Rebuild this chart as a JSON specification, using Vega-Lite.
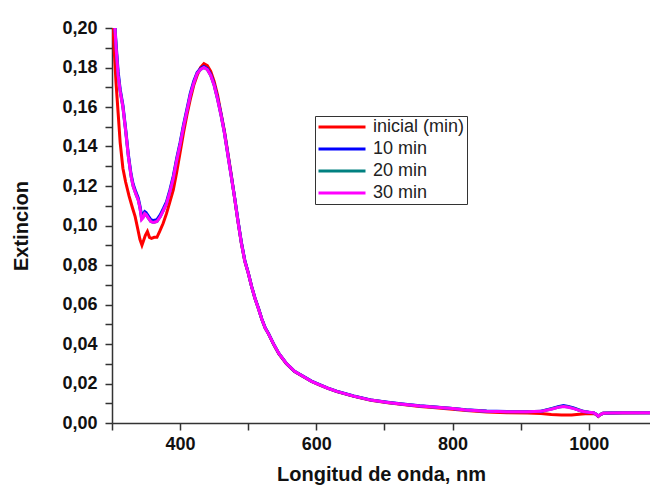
{
  "$schema": "https://vega.github.io/schema/vega-lite/v6.json",
  "autosize": {"type": "none"},
  "padding": {"left": 112, "top": 28, "right": 0, "bottom": 64},
  "width": 538,
  "height": 395,
  "background": "white",
  "config": {
    "font": "Liberation Sans",
    "view": {"stroke": null},
    "axis": {
      "grid": false,
      "domainColor": "#333333",
      "domainWidth": 1.5,
      "tickColor": "#333333",
      "tickWidth": 1.5,
      "tickSize": 7,
      "labelFont": "Liberation Sans",
      "labelFontWeight": "bold",
      "labelFontSize": 18,
      "labelColor": "#111111",
      "titleFont": "Liberation Sans",
      "titleFontWeight": "bold",
      "titleFontSize": 20,
      "titleColor": "#111111"
    }
  },
  "data": {"values": [
    {"s":"inicial (min)","x":299,"y":0.215},{"s":"inicial (min)","x":301,"y":0.205},{"s":"inicial (min)","x":303,"y":0.19},{"s":"inicial (min)","x":306,"y":0.172},{"s":"inicial (min)","x":309,"y":0.157},{"s":"inicial (min)","x":312,"y":0.142},{"s":"inicial (min)","x":316,"y":0.129},{"s":"inicial (min)","x":320,"y":0.122},{"s":"inicial (min)","x":325,"y":0.115},{"s":"inicial (min)","x":330,"y":0.109},{"s":"inicial (min)","x":334,"y":0.1045},{"s":"inicial (min)","x":338,"y":0.098},{"s":"inicial (min)","x":341,"y":0.093},{"s":"inicial (min)","x":344,"y":0.09},{"s":"inicial (min)","x":346,"y":0.092},{"s":"inicial (min)","x":349,"y":0.095},{"s":"inicial (min)","x":352,"y":0.097},{"s":"inicial (min)","x":355,"y":0.094},{"s":"inicial (min)","x":358,"y":0.0935},{"s":"inicial (min)","x":362,"y":0.094},{"s":"inicial (min)","x":366,"y":0.094},{"s":"inicial (min)","x":370,"y":0.097},{"s":"inicial (min)","x":375,"y":0.101},{"s":"inicial (min)","x":380,"y":0.106},{"s":"inicial (min)","x":385,"y":0.112},{"s":"inicial (min)","x":390,"y":0.118},{"s":"inicial (min)","x":395,"y":0.127},{"s":"inicial (min)","x":400,"y":0.137},{"s":"inicial (min)","x":405,"y":0.147},{"s":"inicial (min)","x":410,"y":0.156},{"s":"inicial (min)","x":415,"y":0.164},{"s":"inicial (min)","x":420,"y":0.171},{"s":"inicial (min)","x":425,"y":0.176},{"s":"inicial (min)","x":430,"y":0.18},{"s":"inicial (min)","x":435,"y":0.182},{"s":"inicial (min)","x":440,"y":0.181},{"s":"inicial (min)","x":445,"y":0.178},{"s":"inicial (min)","x":450,"y":0.173},{"s":"inicial (min)","x":455,"y":0.166},{"s":"inicial (min)","x":460,"y":0.157},{"s":"inicial (min)","x":465,"y":0.148},{"s":"inicial (min)","x":470,"y":0.137},{"s":"inicial (min)","x":475,"y":0.126},{"s":"inicial (min)","x":480,"y":0.114},{"s":"inicial (min)","x":485,"y":0.102},{"s":"inicial (min)","x":490,"y":0.091},{"s":"inicial (min)","x":495,"y":0.082},{"s":"inicial (min)","x":500,"y":0.076},{"s":"inicial (min)","x":505,"y":0.069},{"s":"inicial (min)","x":510,"y":0.063},{"s":"inicial (min)","x":515,"y":0.058},{"s":"inicial (min)","x":520,"y":0.0525},{"s":"inicial (min)","x":525,"y":0.048},{"s":"inicial (min)","x":530,"y":0.045},{"s":"inicial (min)","x":537,"y":0.04},{"s":"inicial (min)","x":545,"y":0.035},{"s":"inicial (min)","x":556,"y":0.03},{"s":"inicial (min)","x":568,"y":0.026},{"s":"inicial (min)","x":581,"y":0.0234},{"s":"inicial (min)","x":593,"y":0.021},{"s":"inicial (min)","x":605,"y":0.0192},{"s":"inicial (min)","x":617,"y":0.0175},{"s":"inicial (min)","x":630,"y":0.0159},{"s":"inicial (min)","x":655,"y":0.0135},{"s":"inicial (min)","x":680,"y":0.0115},{"s":"inicial (min)","x":705,"y":0.0102},{"s":"inicial (min)","x":727,"y":0.0093},{"s":"inicial (min)","x":752,"y":0.0084},{"s":"inicial (min)","x":771,"y":0.0078},{"s":"inicial (min)","x":800,"y":0.0069},{"s":"inicial (min)","x":820,"y":0.0063},{"s":"inicial (min)","x":850,"y":0.0056},{"s":"inicial (min)","x":880,"y":0.0052},{"s":"inicial (min)","x":910,"y":0.005},{"s":"inicial (min)","x":930,"y":0.0048},{"s":"inicial (min)","x":945,"y":0.0043},{"s":"inicial (min)","x":960,"y":0.004},{"s":"inicial (min)","x":975,"y":0.004},{"s":"inicial (min)","x":990,"y":0.0045},{"s":"inicial (min)","x":1000,"y":0.0048},{"s":"inicial (min)","x":1008,"y":0.0047},{"s":"inicial (min)","x":1011,"y":0.0042},{"s":"inicial (min)","x":1014,"y":0.0033},{"s":"inicial (min)","x":1017,"y":0.0042},{"s":"inicial (min)","x":1021,"y":0.0049},{"s":"inicial (min)","x":1040,"y":0.005},{"s":"inicial (min)","x":1090,"y":0.0052},

    {"s":"10 min","x":301,"y":0.23},{"s":"10 min","x":303.5,"y":0.205},{"s":"10 min","x":306,"y":0.192},{"s":"10 min","x":309,"y":0.178},{"s":"10 min","x":312,"y":0.169},{"s":"10 min","x":316,"y":0.161},{"s":"10 min","x":320,"y":0.149},{"s":"10 min","x":324,"y":0.136},{"s":"10 min","x":328,"y":0.126},{"s":"10 min","x":331,"y":0.121},{"s":"10 min","x":335,"y":0.117},{"s":"10 min","x":338.5,"y":0.114},{"s":"10 min","x":341,"y":0.11},{"s":"10 min","x":343.5,"y":0.105},{"s":"10 min","x":346,"y":0.106},{"s":"10 min","x":348,"y":0.107},{"s":"10 min","x":350,"y":0.1065},{"s":"10 min","x":353,"y":0.105},{"s":"10 min","x":357,"y":0.103},{"s":"10 min","x":361,"y":0.1025},{"s":"10 min","x":366,"y":0.103},{"s":"10 min","x":371,"y":0.1055},{"s":"10 min","x":376,"y":0.109},{"s":"10 min","x":380,"y":0.112},{"s":"10 min","x":385,"y":0.118},{"s":"10 min","x":390,"y":0.125},{"s":"10 min","x":395,"y":0.134},{"s":"10 min","x":400,"y":0.142},{"s":"10 min","x":405,"y":0.151},{"s":"10 min","x":410,"y":0.159},{"s":"10 min","x":415,"y":0.167},{"s":"10 min","x":420,"y":0.173},{"s":"10 min","x":425,"y":0.1775},{"s":"10 min","x":430,"y":0.1795},{"s":"10 min","x":435,"y":0.1805},{"s":"10 min","x":440,"y":0.1795},{"s":"10 min","x":445,"y":0.1765},{"s":"10 min","x":450,"y":0.1715},{"s":"10 min","x":455,"y":0.1645},{"s":"10 min","x":460,"y":0.1565},{"s":"10 min","x":465,"y":0.1475},{"s":"10 min","x":470,"y":0.1365},{"s":"10 min","x":475,"y":0.1255},{"s":"10 min","x":480,"y":0.1145},{"s":"10 min","x":485,"y":0.1025},{"s":"10 min","x":490,"y":0.0915},{"s":"10 min","x":495,"y":0.0825},{"s":"10 min","x":500,"y":0.0762},{"s":"10 min","x":505,"y":0.0692},{"s":"10 min","x":510,"y":0.0632},{"s":"10 min","x":515,"y":0.0582},{"s":"10 min","x":520,"y":0.0527},{"s":"10 min","x":525,"y":0.0482},{"s":"10 min","x":530,"y":0.0452},{"s":"10 min","x":537,"y":0.0402},{"s":"10 min","x":545,"y":0.0352},{"s":"10 min","x":556,"y":0.0302},{"s":"10 min","x":568,"y":0.0262},{"s":"10 min","x":581,"y":0.0236},{"s":"10 min","x":593,"y":0.0212},{"s":"10 min","x":605,"y":0.0194},{"s":"10 min","x":617,"y":0.0177},{"s":"10 min","x":630,"y":0.0161},{"s":"10 min","x":655,"y":0.0137},{"s":"10 min","x":680,"y":0.0117},{"s":"10 min","x":705,"y":0.0105},{"s":"10 min","x":727,"y":0.0096},{"s":"10 min","x":752,"y":0.0087},{"s":"10 min","x":771,"y":0.0082},{"s":"10 min","x":800,"y":0.0074},{"s":"10 min","x":820,"y":0.0067},{"s":"10 min","x":850,"y":0.0061},{"s":"10 min","x":880,"y":0.0058},{"s":"10 min","x":910,"y":0.0058},{"s":"10 min","x":930,"y":0.006},{"s":"10 min","x":945,"y":0.0073},{"s":"10 min","x":955,"y":0.0082},{"s":"10 min","x":963,"y":0.0088},{"s":"10 min","x":970,"y":0.0084},{"s":"10 min","x":978,"y":0.0076},{"s":"10 min","x":985,"y":0.0067},{"s":"10 min","x":992,"y":0.0059},{"s":"10 min","x":1000,"y":0.0055},{"s":"10 min","x":1007,"y":0.0052},{"s":"10 min","x":1011,"y":0.0044},{"s":"10 min","x":1014,"y":0.0035},{"s":"10 min","x":1017,"y":0.0043},{"s":"10 min","x":1021,"y":0.0049},{"s":"10 min","x":1030,"y":0.0051},{"s":"10 min","x":1050,"y":0.0052},{"s":"10 min","x":1090,"y":0.0052},

    {"s":"20 min","x":301,"y":0.23},{"s":"20 min","x":303.5,"y":0.205},{"s":"20 min","x":306,"y":0.19},{"s":"20 min","x":309,"y":0.176},{"s":"20 min","x":312,"y":0.168},{"s":"20 min","x":316,"y":0.16},{"s":"20 min","x":320,"y":0.148},{"s":"20 min","x":324,"y":0.135},{"s":"20 min","x":328,"y":0.125},{"s":"20 min","x":331,"y":0.12},{"s":"20 min","x":335,"y":0.116},{"s":"20 min","x":338.5,"y":0.113},{"s":"20 min","x":341,"y":0.109},{"s":"20 min","x":343.5,"y":0.1035},{"s":"20 min","x":346,"y":0.1045},{"s":"20 min","x":348,"y":0.106},{"s":"20 min","x":350,"y":0.1055},{"s":"20 min","x":353,"y":0.104},{"s":"20 min","x":357,"y":0.102},{"s":"20 min","x":361,"y":0.1015},{"s":"20 min","x":366,"y":0.102},{"s":"20 min","x":371,"y":0.1045},{"s":"20 min","x":376,"y":0.108},{"s":"20 min","x":380,"y":0.111},{"s":"20 min","x":385,"y":0.117},{"s":"20 min","x":390,"y":0.124},{"s":"20 min","x":395,"y":0.133},{"s":"20 min","x":400,"y":0.141},{"s":"20 min","x":405,"y":0.15},{"s":"20 min","x":410,"y":0.158},{"s":"20 min","x":415,"y":0.166},{"s":"20 min","x":420,"y":0.172},{"s":"20 min","x":425,"y":0.177},{"s":"20 min","x":430,"y":0.179},{"s":"20 min","x":435,"y":0.18},{"s":"20 min","x":440,"y":0.179},{"s":"20 min","x":445,"y":0.176},{"s":"20 min","x":450,"y":0.171},{"s":"20 min","x":455,"y":0.164},{"s":"20 min","x":460,"y":0.156},{"s":"20 min","x":465,"y":0.147},{"s":"20 min","x":470,"y":0.136},{"s":"20 min","x":475,"y":0.125},{"s":"20 min","x":480,"y":0.114},{"s":"20 min","x":485,"y":0.102},{"s":"20 min","x":490,"y":0.091},{"s":"20 min","x":495,"y":0.082},{"s":"20 min","x":500,"y":0.076},{"s":"20 min","x":505,"y":0.069},{"s":"20 min","x":510,"y":0.063},{"s":"20 min","x":515,"y":0.058},{"s":"20 min","x":520,"y":0.0525},{"s":"20 min","x":525,"y":0.048},{"s":"20 min","x":530,"y":0.045},{"s":"20 min","x":537,"y":0.0402},{"s":"20 min","x":545,"y":0.0352},{"s":"20 min","x":556,"y":0.0302},{"s":"20 min","x":568,"y":0.0262},{"s":"20 min","x":581,"y":0.0235},{"s":"20 min","x":593,"y":0.0211},{"s":"20 min","x":605,"y":0.0193},{"s":"20 min","x":617,"y":0.0176},{"s":"20 min","x":630,"y":0.016},{"s":"20 min","x":655,"y":0.0136},{"s":"20 min","x":680,"y":0.0116},{"s":"20 min","x":705,"y":0.0104},{"s":"20 min","x":727,"y":0.0095},{"s":"20 min","x":752,"y":0.0086},{"s":"20 min","x":771,"y":0.0081},{"s":"20 min","x":800,"y":0.0073},{"s":"20 min","x":820,"y":0.0066},{"s":"20 min","x":850,"y":0.006},{"s":"20 min","x":880,"y":0.0057},{"s":"20 min","x":910,"y":0.0057},{"s":"20 min","x":930,"y":0.0059},{"s":"20 min","x":945,"y":0.0071},{"s":"20 min","x":955,"y":0.008},{"s":"20 min","x":963,"y":0.0085},{"s":"20 min","x":970,"y":0.0081},{"s":"20 min","x":978,"y":0.0074},{"s":"20 min","x":985,"y":0.0066},{"s":"20 min","x":992,"y":0.0058},{"s":"20 min","x":1000,"y":0.0054},{"s":"20 min","x":1007,"y":0.0052},{"s":"20 min","x":1011,"y":0.0044},{"s":"20 min","x":1014,"y":0.0035},{"s":"20 min","x":1017,"y":0.0043},{"s":"20 min","x":1021,"y":0.0049},{"s":"20 min","x":1030,"y":0.0051},{"s":"20 min","x":1050,"y":0.0052},{"s":"20 min","x":1090,"y":0.0052},

    {"s":"30 min","x":301,"y":0.23},{"s":"30 min","x":303.5,"y":0.205},{"s":"30 min","x":306,"y":0.19},{"s":"30 min","x":309,"y":0.176},{"s":"30 min","x":312,"y":0.168},{"s":"30 min","x":316,"y":0.16},{"s":"30 min","x":320,"y":0.148},{"s":"30 min","x":324,"y":0.135},{"s":"30 min","x":328,"y":0.125},{"s":"30 min","x":331,"y":0.12},{"s":"30 min","x":335,"y":0.116},{"s":"30 min","x":338.5,"y":0.113},{"s":"30 min","x":341,"y":0.109},{"s":"30 min","x":343.5,"y":0.103},{"s":"30 min","x":346,"y":0.104},{"s":"30 min","x":348,"y":0.106},{"s":"30 min","x":350,"y":0.1055},{"s":"30 min","x":353,"y":0.104},{"s":"30 min","x":357,"y":0.102},{"s":"30 min","x":361,"y":0.1015},{"s":"30 min","x":366,"y":0.102},{"s":"30 min","x":371,"y":0.1045},{"s":"30 min","x":376,"y":0.108},{"s":"30 min","x":380,"y":0.111},{"s":"30 min","x":385,"y":0.117},{"s":"30 min","x":390,"y":0.124},{"s":"30 min","x":395,"y":0.133},{"s":"30 min","x":400,"y":0.141},{"s":"30 min","x":405,"y":0.15},{"s":"30 min","x":410,"y":0.158},{"s":"30 min","x":415,"y":0.166},{"s":"30 min","x":420,"y":0.172},{"s":"30 min","x":425,"y":0.177},{"s":"30 min","x":430,"y":0.179},{"s":"30 min","x":435,"y":0.18},{"s":"30 min","x":440,"y":0.179},{"s":"30 min","x":445,"y":0.176},{"s":"30 min","x":450,"y":0.171},{"s":"30 min","x":455,"y":0.164},{"s":"30 min","x":460,"y":0.156},{"s":"30 min","x":465,"y":0.147},{"s":"30 min","x":470,"y":0.136},{"s":"30 min","x":475,"y":0.125},{"s":"30 min","x":480,"y":0.114},{"s":"30 min","x":485,"y":0.102},{"s":"30 min","x":490,"y":0.091},{"s":"30 min","x":495,"y":0.082},{"s":"30 min","x":500,"y":0.076},{"s":"30 min","x":505,"y":0.069},{"s":"30 min","x":510,"y":0.063},{"s":"30 min","x":515,"y":0.058},{"s":"30 min","x":520,"y":0.0525},{"s":"30 min","x":525,"y":0.048},{"s":"30 min","x":530,"y":0.045},{"s":"30 min","x":537,"y":0.0402},{"s":"30 min","x":545,"y":0.0352},{"s":"30 min","x":556,"y":0.0302},{"s":"30 min","x":568,"y":0.0262},{"s":"30 min","x":581,"y":0.0235},{"s":"30 min","x":593,"y":0.0211},{"s":"30 min","x":605,"y":0.0193},{"s":"30 min","x":617,"y":0.0176},{"s":"30 min","x":630,"y":0.016},{"s":"30 min","x":655,"y":0.0136},{"s":"30 min","x":680,"y":0.0116},{"s":"30 min","x":705,"y":0.0104},{"s":"30 min","x":727,"y":0.0095},{"s":"30 min","x":752,"y":0.0086},{"s":"30 min","x":771,"y":0.0081},{"s":"30 min","x":800,"y":0.0073},{"s":"30 min","x":820,"y":0.0066},{"s":"30 min","x":850,"y":0.006},{"s":"30 min","x":880,"y":0.0057},{"s":"30 min","x":910,"y":0.0057},{"s":"30 min","x":930,"y":0.0059},{"s":"30 min","x":945,"y":0.007},{"s":"30 min","x":955,"y":0.0079},{"s":"30 min","x":963,"y":0.0084},{"s":"30 min","x":970,"y":0.008},{"s":"30 min","x":978,"y":0.0073},{"s":"30 min","x":985,"y":0.0065},{"s":"30 min","x":992,"y":0.0058},{"s":"30 min","x":1000,"y":0.0054},{"s":"30 min","x":1007,"y":0.0052},{"s":"30 min","x":1011,"y":0.0044},{"s":"30 min","x":1014,"y":0.0035},{"s":"30 min","x":1017,"y":0.0043},{"s":"30 min","x":1021,"y":0.0049},{"s":"30 min","x":1030,"y":0.0051},{"s":"30 min","x":1050,"y":0.0052},{"s":"30 min","x":1090,"y":0.0052}
  ]},
  "encoding": {
    "x": {
      "field": "x", "type": "quantitative",
      "scale": {"domain": [300, 1090], "nice": false, "zero": false},
      "axis": {
        "title": "Longitud de onda, nm",
        "values": [300, 400, 500, 600, 700, 800, 900, 1000],
        "labelExpr": "datum.value % 200 == 0 ? format(datum.value, 'd') : ''",
        "labelPadding": 5,
        "titlePadding": 11,
        "labelFlush": false,
        "encode": {"ticks": {"update": {"y2": {"signal": "datum.value % 200 == 0 ? 7 : 4"}}}}
      }
    },
    "y": {
      "field": "y", "type": "quantitative",
      "scale": {"domain": [0, 0.2], "nice": false},
      "axis": {
        "title": "Extincion",
        "values": [0, 0.01, 0.02, 0.03, 0.04, 0.05, 0.06, 0.07, 0.08, 0.09, 0.1, 0.11, 0.12, 0.13, 0.14, 0.15, 0.16, 0.17, 0.18, 0.19, 0.2],
        "labelExpr": "round(datum.value * 100) % 2 == 0 ? replace(format(datum.value, '.2f'), '.', ',') : ''",
        "labelPadding": 8,
        "titlePadding": 30,
        "labelFlush": false,
        "encode": {"ticks": {"update": {"x2": {"signal": "round(datum.value * 100) % 2 == 0 ? -7 : -4"}}}}
      }
    },
    "color": {
      "field": "s", "type": "nominal",
      "scale": {
        "domain": ["inicial (min)", "10 min", "20 min", "30 min"],
        "range": ["#ff0000", "#0000ff", "#008080", "#ff00ff"]
      },
      "legend": {
        "title": null,
        "orient": "none",
        "legendX": 203,
        "legendY": 88,
        "symbolType": "stroke",
        "symbolSize": 2209,
        "symbolStrokeWidth": 3,
        "clipHeight": 18,
        "rowPadding": 4,
        "padding": 2,
        "labelOffset": 6,
        "labelFont": "Liberation Sans",
        "labelFontSize": 18,
        "labelColor": "#222222",
        "strokeColor": "#333333",
        "fillColor": "white"
      }
    }
  },
  "layer": [
    {"transform": [{"filter": "datum.s == 'inicial (min)'"}], "mark": {"type": "line", "strokeWidth": 3, "clip": true}},
    {"transform": [{"filter": "datum.s == '10 min'"}], "mark": {"type": "line", "strokeWidth": 3, "clip": true}},
    {"transform": [{"filter": "datum.s == '20 min'"}], "mark": {"type": "line", "strokeWidth": 3, "clip": true}},
    {"transform": [{"filter": "datum.s == '30 min'"}], "mark": {"type": "line", "strokeWidth": 3, "clip": true}}
  ]
}
